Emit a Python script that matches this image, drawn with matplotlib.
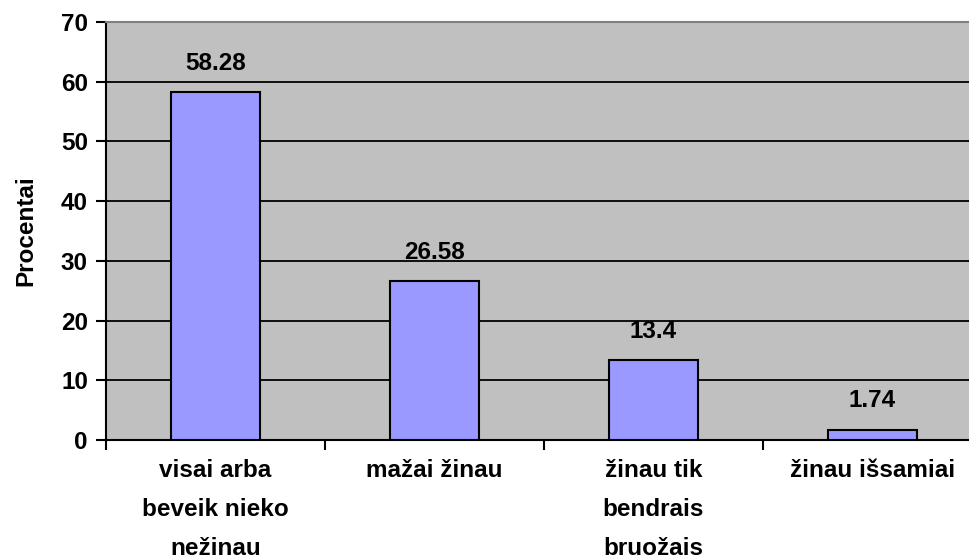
import matplotlib
matplotlib.use("Agg")
import matplotlib.pyplot as plt
from matplotlib.ticker import FixedLocator, NullFormatter, FixedFormatter

categories = ["visai arba\nbeveik nieko\nnežinau", "mažai žinau", "žinau tik\nbendrais\nbruožais", "žinau išsamiai"]
values = [58.28, 26.58, 13.4, 1.74]
value_labels = ["58.28", "26.58", "13.4", "1.74"]
yticks = [0, 10, 20, 30, 40, 50, 60, 70]

plt.rcParams['font.family'] = ['Liberation Sans', 'DejaVu Sans']
plt.rcParams['font.weight'] = 'bold'

FS = 17.5

fig = plt.figure(figsize=(9.7, 5.6), dpi=100)
ax = fig.add_axes([106/970, 1-440/560, 876/970, 418/560])
ax.set_facecolor('#C0C0C0')

x = list(range(len(categories)))
ax.bar(x, values, width=0.41, color='#9999FF', edgecolor='black', linewidth=1.5, zorder=3)

ax.set_xlim(-0.5, 3.5)
ax.set_ylim(0, 70)
ax.set_yticks(yticks)
ax.set_yticklabels([str(t) for t in yticks], fontsize=FS, fontweight='bold')
for t in yticks[1:-1]:
    ax.axhline(t, color='black', linewidth=1.3, zorder=1)

ax.xaxis.set_major_locator(FixedLocator([-0.5, 0.5, 1.5, 2.5, 3.5]))
ax.xaxis.set_major_formatter(NullFormatter())
ax.xaxis.set_minor_locator(FixedLocator(x))
ax.xaxis.set_minor_formatter(FixedFormatter(categories))
ax.tick_params(axis='x', which='major', length=7, width=1.5, direction='out', color='black')
ax.tick_params(axis='x', which='minor', length=0, pad=13.5, labelsize=FS)
for lbl in ax.get_xticklabels(minor=True):
    lbl.set_fontweight('bold')
    lbl.set_linespacing(1.9)
    lbl.set_verticalalignment('top')
ax.tick_params(axis='y', length=7, width=1.5, direction='out', pad=6)

ax.spines['right'].set_visible(False)
ax.spines['top'].set_color('#808080')
ax.spines['top'].set_linewidth(1.5)
ax.spines['left'].set_linewidth(1.5)
ax.spines['bottom'].set_linewidth(1.5)

for xi, v, s in zip(x, values, value_labels):
    ax.annotate(s, (xi, v), xytext=(0, 12.5), textcoords='offset points',
                ha='center', va='bottom', fontsize=FS, fontweight='bold', zorder=4)

ax.set_ylabel('Procentai', fontsize=FS, fontweight='bold', labelpad=17)

fig.savefig('out.png', dpi=100)
